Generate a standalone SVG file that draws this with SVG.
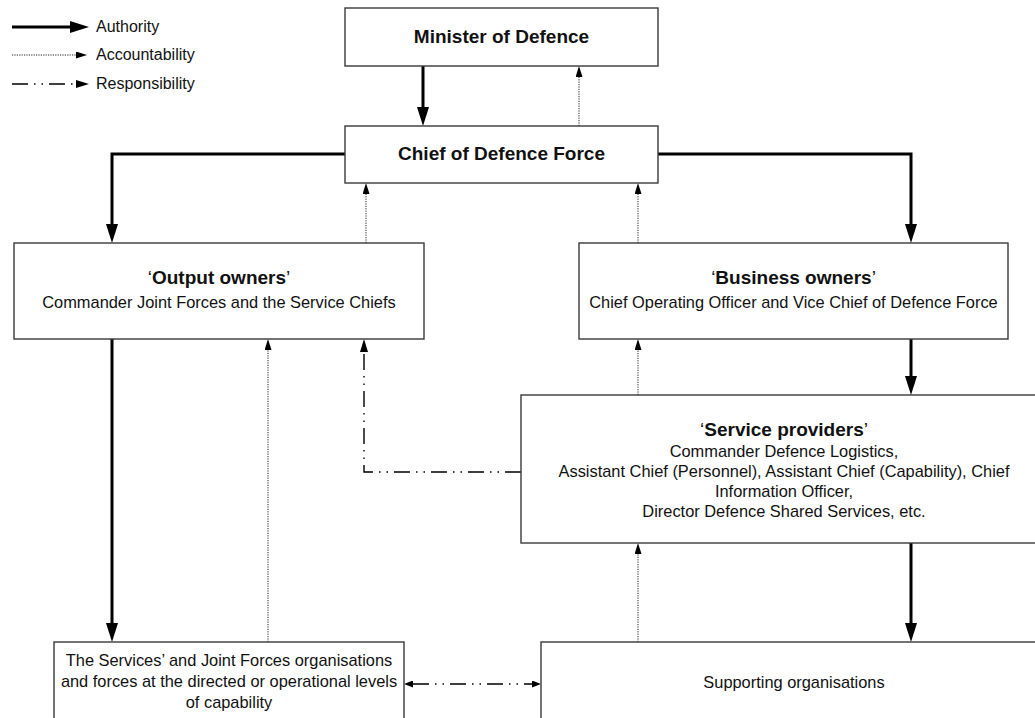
<svg xmlns="http://www.w3.org/2000/svg" width="1035" height="718" viewBox="0 0 1035 718">
<style>
  .box { fill: #ffffff; stroke: #3a3a3a; stroke-width: 1.4; }
  .t { font-family: "Liberation Sans", Arial, sans-serif; font-size: 16.4px; fill: #111; text-anchor: middle; }
  .lg { font-family: "Liberation Sans", Arial, sans-serif; font-size: 16px; fill: #111; }
  .b { font-family: "Liberation Sans", Arial, sans-serif; font-size: 19px; font-weight: bold; fill: #111; text-anchor: middle; }
  .q { font-weight: normal; }
  .auth { fill: none; stroke: #000; stroke-width: 3; }
  .acc { fill: none; stroke: #222; stroke-width: 1; stroke-dasharray: 1.2 1.2; }
  .resp { fill: none; stroke: #000; stroke-width: 1.4; stroke-dasharray: 16 6 1.5 6 1.5 6; }
</style>
<defs>
  <marker id="hAuth" markerUnits="userSpaceOnUse" viewBox="0 0 19 12" markerWidth="19" markerHeight="12" refX="0" refY="6" orient="auto">
    <path d="M0,0 L19,6 L0,12 z" fill="#000"/>
  </marker>
  <marker id="hAcc" markerUnits="userSpaceOnUse" viewBox="0 0 11 7" markerWidth="11" markerHeight="7" refX="0" refY="3.5" orient="auto">
    <path d="M0,0 L11,3.5 L0,7 z" fill="#000"/>
  </marker>
  <marker id="hResp" markerUnits="userSpaceOnUse" viewBox="0 0 13 8" markerWidth="13" markerHeight="8" refX="0" refY="4" orient="auto">
    <path d="M0,0 L13,4 L0,8 z" fill="#000"/>
  </marker>
  <marker id="hBi" markerUnits="userSpaceOnUse" viewBox="0 0 9 7" markerWidth="9" markerHeight="7" refX="0" refY="3.5" orient="auto-start-reverse">
    <path d="M0,0 L9,3.5 L0,7 z" fill="#000"/>
  </marker>
</defs>

<g id="legend">
  <path class="auth" d="M12,27 H70" marker-end="url(#hAuth)"/>
  <text class="lg" x="96" y="32">Authority</text>
  <path class="acc" d="M12,55 H76" marker-end="url(#hAcc)"/>
  <text class="lg" x="96" y="60">Accountability</text>
  <path class="resp" d="M12,84 H76" marker-end="url(#hResp)"/>
  <text class="lg" x="96" y="89">Responsibility</text>
</g>

<g id="connectors">
  <!-- Authority -->
  <path class="auth" d="M423,66 V107" marker-end="url(#hAuth)"/>
  <path class="auth" d="M345,154 H112 V224" marker-end="url(#hAuth)"/>
  <path class="auth" d="M658,154 H911 V224" marker-end="url(#hAuth)"/>
  <path class="auth" d="M911,339 V376" marker-end="url(#hAuth)"/>
  <path class="auth" d="M112,339 V623" marker-end="url(#hAuth)"/>
  <path class="auth" d="M911,543 V623" marker-end="url(#hAuth)"/>
  <!-- Accountability -->
  <path class="acc" d="M579,126 V77" marker-end="url(#hAcc)"/>
  <path class="acc" d="M366,243 V194" marker-end="url(#hAcc)"/>
  <path class="acc" d="M638,243 V194" marker-end="url(#hAcc)"/>
  <path class="acc" d="M638,395 V350" marker-end="url(#hAcc)"/>
  <path class="acc" d="M268,642 V350" marker-end="url(#hAcc)"/>
  <path class="acc" d="M638,642 V554" marker-end="url(#hAcc)"/>
  <!-- Responsibility -->
  <path class="resp" d="M521,472 H364 V352" marker-end="url(#hResp)"/>
  <path class="resp" d="M413,684 H532" marker-start="url(#hBi)" marker-end="url(#hBi)"/>
</g>

<g id="minister">
  <rect class="box" x="345" y="8" width="313" height="58"/>
  <text class="b" x="501.5" y="43">Minister of Defence</text>
</g>

<g id="cdf">
  <rect class="box" x="345" y="126" width="313" height="57"/>
  <text class="b" x="501.5" y="160">Chief of Defence Force</text>
</g>

<g id="output-owners">
  <rect class="box" x="14" y="243" width="410" height="96"/>
  <text class="b" x="219" y="284"><tspan class="q">‘</tspan>Output owners<tspan class="q">’</tspan></text>
  <text class="t" x="219" y="308">Commander Joint Forces and the Service Chiefs</text>
</g>

<g id="business-owners">
  <rect class="box" x="579" y="243" width="429" height="96"/>
  <text class="b" x="793.5" y="284"><tspan class="q">‘</tspan>Business owners<tspan class="q">’</tspan></text>
  <text class="t" x="793.5" y="308">Chief Operating Officer and Vice Chief of Defence Force</text>
</g>

<g id="service-providers">
  <rect class="box" x="521" y="395" width="530" height="148"/>
  <text class="b" x="784" y="436"><tspan class="q">‘</tspan>Service providers<tspan class="q">’</tspan></text>
  <text class="t" x="784" y="457">Commander Defence Logistics,</text>
  <text class="t" x="784" y="477">Assistant Chief (Personnel), Assistant Chief (Capability), Chief</text>
  <text class="t" x="784" y="497">Information Officer,</text>
  <text class="t" x="784" y="517">Director Defence Shared Services, etc.</text>
</g>

<g id="services-forces">
  <rect class="box" x="54" y="642" width="350" height="90"/>
  <text class="t" x="229" y="666">The Services’ and Joint Forces organisations</text>
  <text class="t" x="229" y="687">and forces at the directed or operational levels</text>
  <text class="t" x="229" y="708">of capability</text>
</g>

<g id="supporting">
  <rect class="box" x="541" y="642" width="510" height="90"/>
  <text class="t" x="794" y="688">Supporting organisations</text>
</g>
</svg>
